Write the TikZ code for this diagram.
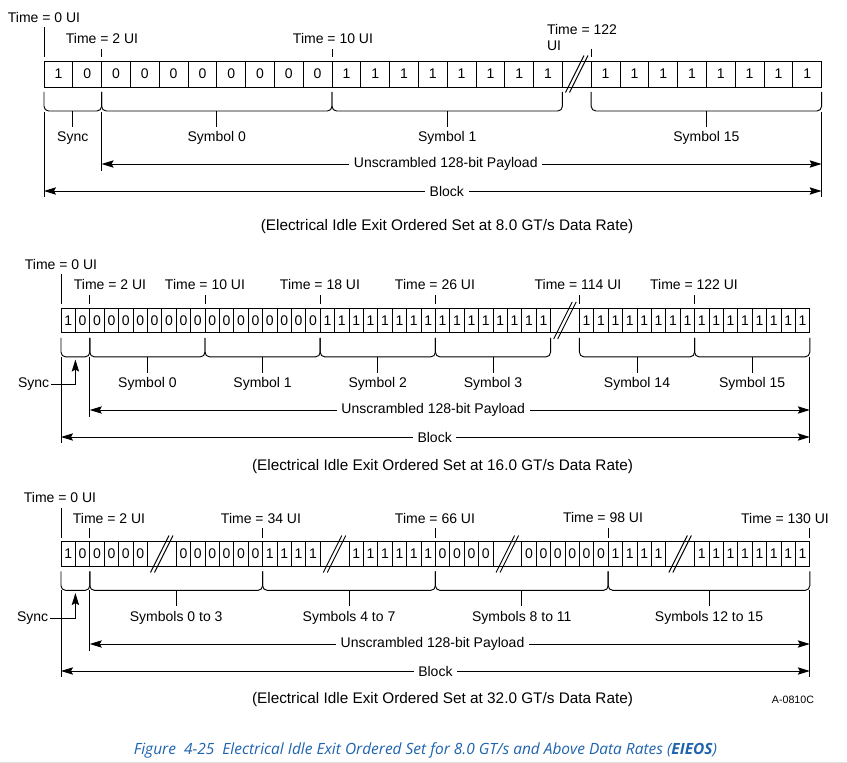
\documentclass[tikz,border=0pt]{standalone}
\usepackage{fontspec}
\setmainfont{Liberation Sans}
\newfontfamily\capfont{Open Sans}
\usepackage{xcolor}
\usepackage{tikz}
\usetikzlibrary{arrows.meta}
\usetikzlibrary{calc}

\definecolor{capblue}{HTML}{1E63AE}

% tick above a cell corner
\newcommand{\timetick}[2]{\draw ([yshift=3pt]#1) -- ++(0,#2);}
% the // mark on a skipped cell
\newcommand{\brkmark}[1]{%
  \draw ([shift={(-8.5pt,-13.9pt)}]#1.center) -- ++(13.9pt,27.8pt);
  \draw ([shift={(-5.5pt,-13.9pt)}]#1.center) -- ++(13.9pt,27.8pt);}
% brace under the cells, (#3) is its bottom middle
\newcommand{\symbracket}[3]{%
  \coordinate (#3l) at ([yshift=-3.75pt]#1);
  \coordinate (#3r) at ([yshift=-3.75pt]#2);
  \coordinate (#3) at ($(#3l)!0.5!(#3r)+(0,-14.25pt)$);
  \draw[rounded corners=3.5pt] (#3l) |- (#3) -| (#3r);}
\newcommand{\symbrace}[4]{%
  \symbracket{#1}{#2}{#3}
  \draw (#3) -- ++(0,-12pt) coordinate (#3s);
  \node[lbl, anchor=base] (#3t) at ([yshift=-11pt]#3s) {#4};}

\begin{document}
\begin{tikzpicture}[
    x=0.75pt, y=-0.75pt,
    line width=0.7pt,
    >={Stealth[length=9pt, width=5.5pt, inset=1.5pt]},
    lbl/.style={inner sep=1pt, font=\fontsize{10.5}{12}\selectfont},
    lblw/.style={lbl, fill=white, inner sep=3.5pt},
    setcap/.style={lbl, font=\fontsize{11.5}{13}\selectfont},
    bitA/.style={draw, minimum width=21.6pt, minimum height=19.5pt, inner sep=0pt, outer sep=0pt, font=\fontsize{10.5}{12}\selectfont},
    bitB/.style={bitA, minimum width=10.8pt, minimum height=18.6pt},
    gapB/.style={bitB, minimum width=21.6pt},
    figcap/.style={inner sep=0pt, text=capblue, font=\capfont\itshape\fontsize{11.6}{13}\selectfont}
]
\useasboundingbox (0,0) rectangle (847,763);

% Panel 1 (8.0 GT/s) :
\foreach \s/\e/\b in {0/0/1, 1/9/0, 10/17/1, 19/26/1}
  \foreach \i in {\s,...,\e}
    \node[bitA] (a\i) at ({58.4+28.8*\i},74) {\b};
\node[bitA] (a18) at ({58.4+28.8*18},74) {};
\brkmark{a18}

\node[lbl] (ta0) at (44,17) {Time = 0 UI};
\node[lbl] (ta2) at (102,38) {Time = 2 UI};
\node[lbl] (ta10) at (333,38) {Time = 10 UI};
\node[lbl, align=left] (ta122) at (582,37) {Time = 122\\UI};
\timetick{a0.north west}{22.5pt}
\timetick{a2.north west}{6pt}
\timetick{a10.north west}{6pt}
\timetick{a19.north west}{6pt}

\symbrace{a0.south west}{a1.south east}{sa0}{Sync}
\symbrace{a2.south west}{a9.south east}{sa1}{Symbol 0}
\symbrace{a10.south west}{a17.south east}{sa2}{Symbol 1}
\symbrace{a19.south west}{a26.south east}{sa3}{Symbol 15}

\coordinate (ua) at (a2.south west |- 0,164);
\coordinate (ub) at (a26.south east |- 0,164);
\coordinate (ka) at (a0.south west |- 0,191);
\coordinate (kb) at (a26.south east |- 0,191);
\draw (ua |- 0,112) -- (ua |- 0,171);
\draw (ka |- 0,112) -- (ka |- 0,197);
\draw (kb |- 0,112) -- (kb |- 0,197);
\draw[<->] (ua) -- node[lblw, pos=0.478] (pa) {Unscrambled 128-bit Payload} (ub);
\draw[<->] (ka) -- node[lblw, pos=0.518] (ba) {Block} (kb);
\node[setcap] (cap1) at (447,227) {(Electrical Idle Exit Ordered Set at 8.0 GT/s Data Rate)};

% Panel 2 (16.0 GT/s) :
\foreach \s/\e/\b in {0/0/1, 1/17/0, 18/33/1, 36/51/1}
  \foreach \i in {\s,...,\e}
    \node[bitB] (b\i) at ({68.2+14.4*\i},320.5) {\b};
\node[gapB] (b34) at ({61+14.4*35},320.5) {};
\brkmark{b34}

\node[lbl] (tb0) at (61,264) {Time = 0 UI};
\node[lbl] (tb2) at (110,284) {Time = 2 UI};
\node[lbl] (tb10) at (205,284) {Time = 10 UI};
\node[lbl] (tb18) at (320,284) {Time = 18 UI};
\node[lbl] (tb26) at (435,284) {Time = 26 UI};
\node[lbl] (tb114) at (578,284) {Time = 114 UI};
\node[lbl] (tb122) at (694,284) {Time = 122 UI};
\timetick{b0.north west}{22.5pt}
\foreach \i in {2,10,18,26,36,44} {
  \timetick{b\i.north west}{6.75pt}
}

\symbracket{b0.south west}{b1.south east}{sb0}
\symbrace{b2.south west}{b9.south east}{sb1}{Symbol 0}
\symbrace{b10.south west}{b17.south east}{sb2}{Symbol 1}
\symbrace{b18.south west}{b25.south east}{sb3}{Symbol 2}
\symbrace{b26.south west}{b33.south east}{sb4}{Symbol 3}
\symbrace{b36.south west}{b43.south east}{sb5}{Symbol 14}
\symbrace{b44.south west}{b51.south east}{sb6}{Symbol 15}

\node[lbl, anchor=east] (sy2) at (51,384) {Sync};
\draw[->, shorten >=2pt] (sy2.east) -| (sb0);

\coordinate (ua2) at (b2.south west |- 0,410);
\coordinate (ub2) at (b51.south east |- 0,410);
\coordinate (ka2) at (b0.south west |- 0,437);
\coordinate (kb2) at (b51.south east |- 0,437);
\draw (ua2 |- 0,357) -- (ua2 |- 0,417);
\draw (ka2 |- 0,357) -- (ka2 |- 0,443);
\draw (kb2 |- 0,357) -- (kb2 |- 0,443);
\draw[<->] (ua2) -- node[lblw, pos=0.477] (pb) {Unscrambled 128-bit Payload} (ub2);
\draw[<->] (ka2) -- node[lblw, pos=0.499] (bb) {Block} (kb2);
\node[setcap] (cap2) at (442.5,467) {(Electrical Idle Exit Ordered Set at 16.0 GT/s Data Rate)};

% Panel 3 (32.0 GT/s) :
\foreach \s/\e/\b in {0/0/1, 1/5/0, 8/13/0, 14/17/1, 20/25/1, 26/29/0, 32/37/0, 38/41/1, 44/51/1}
  \foreach \i in {\s,...,\e}
    \node[bitB] (c\i) at ({68.2+14.4*\i},554) {\b};
\foreach \i in {6,18,30,42} {
  \node[gapB] (c\i) at ({61+14.4*(\i+1)},554) {};
  \brkmark{c\i}
}

\node[lbl] (td0) at (60,497) {Time = 0 UI};
\node[lbl] (td2) at (109,518) {Time = 2 UI};
\node[lbl] (td34) at (261,518) {Time = 34 UI};
\node[lbl] (td66) at (435,518) {Time = 66 UI};
\node[lbl] (td98) at (603,517) {Time = 98 UI};
\node[lbl] (td130) at (785,518) {Time = 130 UI};
\timetick{c0.north west}{22.5pt}
\foreach \i in {2,14,26,38} {
  \timetick{c\i.north west}{7pt}
}
\timetick{c51.north east}{7pt}

\symbracket{c0.south west}{c1.south east}{sc0}
\symbrace{c2.south west}{c13.south east}{sc1}{Symbols 0 to 3}
\symbrace{c14.south west}{c25.south east}{sc2}{Symbols 4 to 7}
\symbrace{c26.south west}{c37.south east}{sc3}{Symbols 8 to 11}
\symbrace{c38.south west}{c51.south east}{sc4}{Symbols 12 to 15}

\node[lbl, anchor=east] (sy3) at (50,618) {Sync};
\draw[->, shorten >=2pt] (sy3.east) -| (sc0);

\coordinate (ua3) at (c2.south west |- 0,644);
\coordinate (ub3) at (c51.south east |- 0,644);
\coordinate (ka3) at (c0.south west |- 0,671);
\coordinate (kb3) at (c51.south east |- 0,671);
\draw (ua3 |- 0,590) -- (ua3 |- 0,651);
\draw (ka3 |- 0,590) -- (ka3 |- 0,677);
\draw (kb3 |- 0,590) -- (kb3 |- 0,677);
\draw[<->] (ua3) -- node[lblw, pos=0.476] (pc) {Unscrambled 128-bit Payload} (ub3);
\draw[<->] (ka3) -- node[lblw, pos=0.5] (bc) {Block} (kb3);
\node[setcap] (cap3) at (442.5,700) {(Electrical Idle Exit Ordered Set at 32.0 GT/s Data Rate)};
\node[lbl, font=\fontsize{8}{9}\selectfont] (fid) at (793,700) {A-0810C};

% Figure caption :
\node[figcap] (fig) at (425.5,750) {Figure\ \ 4-25\ \ Electrical Idle Exit Ordered Set for 8.0 GT/s and Above Data Rates (\textbf{EIEOS})};
\draw[gray!25] (0,762) -- (847,762);

\end{tikzpicture}
\end{document}
